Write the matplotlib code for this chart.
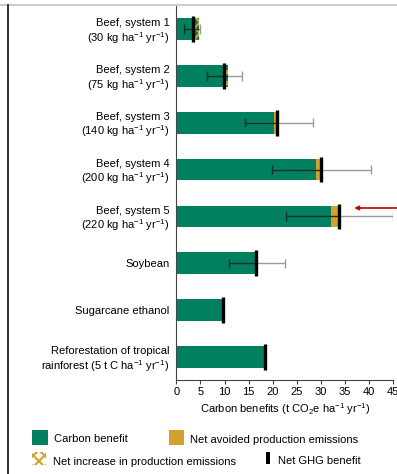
import matplotlib
matplotlib.use("Agg")
import matplotlib.pyplot as plt
from matplotlib.patches import Rectangle
from matplotlib.lines import Line2D

plt.rcParams['font.family'] = ['Liberation Sans', 'DejaVu Sans']
plt.rcParams['font.size'] = 8
plt.rcParams['mathtext.fontset'] = 'custom'
plt.rcParams['mathtext.rm'] = 'Liberation Sans'
plt.rcParams['mathtext.it'] = 'Liberation Sans:italic'
plt.rcParams['mathtext.default'] = 'regular'
plt.rcParams['hatch.linewidth'] = 1.5

# land uses, top to bottom
labels = [
    "Beef, system 1\n(30 kg ha$^{-1}$ yr$^{-1}$)",
    "Beef, system 2\n(75 kg ha$^{-1}$ yr$^{-1}$)",
    "Beef, system 3\n(140 kg ha$^{-1}$ yr$^{-1}$)",
    "Beef, system 4\n(200 kg ha$^{-1}$ yr$^{-1}$)",
    "Beef, system 5\n(220 kg ha$^{-1}$ yr$^{-1}$)",
    "Soybean",
    "Sugarcane ethanol",
    "Reforestation of tropical\nrainforest (5 t C ha$^{-1}$ yr$^{-1}$)",
]
carbon_benefit = [4.8, 10.8, 20.3, 29.0, 32.0, 16.5, 9.7, 18.4]
net_ghg = [3.4, 9.9, 20.9, 30.0, 33.8, 16.5, 9.7, 18.4]
err_low = [1.7, 6.4, 14.3, 19.8, 22.7, 10.9, None, None]
err_high = [4.9, 13.7, 28.4, 40.3, 45.0, 22.6, None, None]
xticks = [0, 5, 10, 15, 20, 25, 30, 35, 40, 45]

GREEN = '#00805f'
GOLD = '#d4a22c'
W, H = 397, 474

fig = plt.figure(figsize=(W / 100, H / 100), dpi=100)
ax = fig.add_axes([176.3 / W, 1 - 380.4 / H, 217 / W, 374.8 / H])

ypos = list(range(len(labels)))
bar_h = 0.46

for y, cb, net in zip(ypos, carbon_benefit, net_ghg):
    ax.barh(y, cb, height=bar_h, color=GREEN, linewidth=0)
    if net > cb:
        # avoided production emissions add to the benefit
        ax.barh(y, net - cb, left=cb, height=bar_h, color=GOLD, linewidth=0)
    elif net < cb:
        # extra production emissions eat into it
        ax.barh(y, cb - net, left=net, height=bar_h, color=GREEN,
                edgecolor=GOLD, hatch='xxx', linewidth=0)

# uncertainty ranges: dark over the bar, grey past its end
cap = 0.1
for y, cb, net, lo, hi in zip(ypos, carbon_benefit, net_ghg, err_low, err_high):
    if lo is None:
        continue
    end = max(cb, net)
    ax.hlines(y, lo, min(hi, end), color='#1c2e26', lw=1)
    if hi > end:
        ax.hlines(y, end, hi, color='#9a9a9a', lw=1)
    ax.vlines(lo, y - cap, y + cap, color='#1c2e26', lw=1)
    ax.vlines(hi, y - cap, y + cap, color='#9a9a9a' if hi > end else '#1c2e26', lw=1)

ax.vlines(net_ghg, [y - 0.275 for y in ypos], [y + 0.275 for y in ypos],
          color='black', lw=2.4, zorder=5)

ax.annotate('', xy=(36.9, 3.82), xytext=(46.5, 3.82), annotation_clip=False,
            arrowprops=dict(arrowstyle='-|>', color='#c00000', lw=1.2,
                            mutation_scale=6, shrinkA=0, shrinkB=0))

ax.set_xlim(0, 45)
ax.set_ylim(len(labels) - 0.5, -0.5)
ax.set_xticks(xticks)
ax.set_yticks(ypos)
ax.set_yticklabels(labels, linespacing=1.15)
ax.tick_params(axis='y', length=0, pad=5)
ax.tick_params(axis='x', length=3, width=0.8, pad=2, color='#444444')
ax.set_xlabel("Carbon benefits (t CO$_2$e ha$^{-1}$ yr$^{-1}$)", labelpad=3)
for side in ['top', 'right']:
    ax.spines[side].set_visible(False)
for side in ['left', 'bottom']:
    ax.spines[side].set_color('#444444')
    ax.spines[side].set_linewidth(0.8)


def fp(x, y):
    return x / W, 1 - y / H


# legend drawn by hand in figure pixels
fig.add_artist(Rectangle(fp(32, 445), 16 / W, 15 / H, color=GREEN, lw=0))
fig.add_artist(Rectangle(fp(169, 445), 15 / W, 15 / H, color=GOLD, lw=0))
fig.add_artist(Rectangle(fp(32, 465), 14 / W, 13 / H, facecolor='white',
                         edgecolor=GOLD, hatch='xxx', lw=0))
fig.add_artist(Rectangle(fp(266, 464), 4 / W, 12 / H, color='black', lw=0))
fig.text(*fp(54, 439), "Carbon benefit", va='center')
fig.text(*fp(190, 440), "Net avoided production emissions", va='center')
fig.text(*fp(53, 462), "Net increase in production emissions", va='center')
fig.text(*fp(278, 461), "Net GHG benefit", va='center')

# page edges
fig.add_artist(Line2D([0, 1], [1 - 5 / H] * 2, color='#cccccc', lw=1.4))
fig.add_artist(Line2D([8 / W] * 2, [0, 1 - 5 / H], color='#333333', lw=1.4))

fig.savefig('out.png', dpi=100)
